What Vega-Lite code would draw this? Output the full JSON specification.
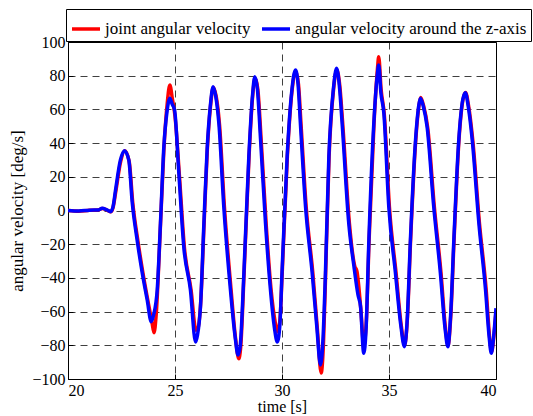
{
  "$schema": "https://vega.github.io/schema/vega-lite/v6.json",
  "width": 428,
  "height": 337,
  "autosize": {"type": "none"},
  "padding": {"left": 68, "top": 42, "right": 37, "bottom": 37},
  "background": "white",
  "config": {
    "view": {"stroke": "black", "strokeWidth": 1},
    "font": "Liberation Serif",
    "axis": {
      "labelFontSize": 16, "labelColor": "black",
      "titleFontSize": 17, "titleFontWeight": "normal", "titleColor": "black",
      "domain": false, "tickColor": "black", "tickSize": -5,
      "grid": true, "gridColor": "black", "gridDash": [7, 5], "gridOpacity": 0.75, "gridWidth": 1
    },
    "legend": {"labelFontSize": 17, "labelColor": "black"}
  },
  "datasets": {
    "curves": [
      {"s": "joint angular velocity", "t": 20.0, "v": 0},
      {"s": "joint angular velocity", "t": 20.5, "v": -0.4},
      {"s": "joint angular velocity", "t": 21.0, "v": 0.1},
      {"s": "joint angular velocity", "t": 21.4, "v": 0.3},
      {"s": "joint angular velocity", "t": 21.6, "v": 1.2},
      {"s": "joint angular velocity", "t": 21.8, "v": 0.4},
      {"s": "joint angular velocity", "t": 22.0, "v": -0.8},
      {"s": "joint angular velocity", "t": 22.1, "v": 1.5},
      {"s": "joint angular velocity", "t": 22.23, "v": 11},
      {"s": "joint angular velocity", "t": 22.46, "v": 29},
      {"s": "joint angular velocity", "t": 22.65, "v": 35.5},
      {"s": "joint angular velocity", "t": 22.86, "v": 29},
      {"s": "joint angular velocity", "t": 23.03, "v": 4},
      {"s": "joint angular velocity", "t": 23.26, "v": -17.5},
      {"s": "joint angular velocity", "t": 23.5, "v": -37},
      {"s": "joint angular velocity", "t": 23.74, "v": -54},
      {"s": "joint angular velocity", "t": 23.92, "v": -66},
      {"s": "joint angular velocity", "t": 24.02, "v": -72.5},
      {"s": "joint angular velocity", "t": 24.12, "v": -62},
      {"s": "joint angular velocity", "t": 24.3, "v": -15},
      {"s": "joint angular velocity", "t": 24.48, "v": 36},
      {"s": "joint angular velocity", "t": 24.64, "v": 64},
      {"s": "joint angular velocity", "t": 24.76, "v": 74.5},
      {"s": "joint angular velocity", "t": 24.88, "v": 66},
      {"s": "joint angular velocity", "t": 25.0, "v": 56},
      {"s": "joint angular velocity", "t": 25.21, "v": 20},
      {"s": "joint angular velocity", "t": 25.44, "v": -22},
      {"s": "joint angular velocity", "t": 25.75, "v": -47},
      {"s": "joint angular velocity", "t": 25.98, "v": -71},
      {"s": "joint angular velocity", "t": 26.07, "v": -70},
      {"s": "joint angular velocity", "t": 26.2, "v": -55},
      {"s": "joint angular velocity", "t": 26.36, "v": -7.6},
      {"s": "joint angular velocity", "t": 26.51, "v": 36},
      {"s": "joint angular velocity", "t": 26.66, "v": 62},
      {"s": "joint angular velocity", "t": 26.79, "v": 73},
      {"s": "joint angular velocity", "t": 26.92, "v": 68},
      {"s": "joint angular velocity", "t": 27.08, "v": 51},
      {"s": "joint angular velocity", "t": 27.31, "v": 2},
      {"s": "joint angular velocity", "t": 27.62, "v": -47},
      {"s": "joint angular velocity", "t": 27.83, "v": -76},
      {"s": "joint angular velocity", "t": 27.98, "v": -88},
      {"s": "joint angular velocity", "t": 28.07, "v": -81},
      {"s": "joint angular velocity", "t": 28.23, "v": -37},
      {"s": "joint angular velocity", "t": 28.46, "v": 32},
      {"s": "joint angular velocity", "t": 28.63, "v": 68},
      {"s": "joint angular velocity", "t": 28.74, "v": 78.5},
      {"s": "joint angular velocity", "t": 28.87, "v": 72},
      {"s": "joint angular velocity", "t": 29.03, "v": 41},
      {"s": "joint angular velocity", "t": 29.26, "v": -8},
      {"s": "joint angular velocity", "t": 29.49, "v": -47},
      {"s": "joint angular velocity", "t": 29.68, "v": -66},
      {"s": "joint angular velocity", "t": 29.8, "v": -72},
      {"s": "joint angular velocity", "t": 29.91, "v": -64},
      {"s": "joint angular velocity", "t": 30.01, "v": -37},
      {"s": "joint angular velocity", "t": 30.25, "v": 32},
      {"s": "joint angular velocity", "t": 30.46, "v": 70},
      {"s": "joint angular velocity", "t": 30.64, "v": 82.5},
      {"s": "joint angular velocity", "t": 30.77, "v": 75},
      {"s": "joint angular velocity", "t": 30.89, "v": 51},
      {"s": "joint angular velocity", "t": 31.13, "v": 2},
      {"s": "joint angular velocity", "t": 31.44, "v": -37},
      {"s": "joint angular velocity", "t": 31.65, "v": -70},
      {"s": "joint angular velocity", "t": 31.83, "v": -96.5},
      {"s": "joint angular velocity", "t": 31.94, "v": -78},
      {"s": "joint angular velocity", "t": 32.04, "v": -37},
      {"s": "joint angular velocity", "t": 32.2, "v": 32},
      {"s": "joint angular velocity", "t": 32.41, "v": 72},
      {"s": "joint angular velocity", "t": 32.56, "v": 83.5},
      {"s": "joint angular velocity", "t": 32.7, "v": 74},
      {"s": "joint angular velocity", "t": 32.84, "v": 51},
      {"s": "joint angular velocity", "t": 33.15, "v": -7.6},
      {"s": "joint angular velocity", "t": 33.4, "v": -33},
      {"s": "joint angular velocity", "t": 33.5, "v": -36},
      {"s": "joint angular velocity", "t": 33.68, "v": -58},
      {"s": "joint angular velocity", "t": 33.82, "v": -80},
      {"s": "joint angular velocity", "t": 33.94, "v": -66},
      {"s": "joint angular velocity", "t": 34.07, "v": -17.5},
      {"s": "joint angular velocity", "t": 34.3, "v": 51.7},
      {"s": "joint angular velocity", "t": 34.46, "v": 84},
      {"s": "joint angular velocity", "t": 34.52, "v": 91.3},
      {"s": "joint angular velocity", "t": 34.63, "v": 72},
      {"s": "joint angular velocity", "t": 34.78, "v": 57},
      {"s": "joint angular velocity", "t": 35.02, "v": 2},
      {"s": "joint angular velocity", "t": 35.33, "v": -37},
      {"s": "joint angular velocity", "t": 35.57, "v": -68},
      {"s": "joint angular velocity", "t": 35.73, "v": -80},
      {"s": "joint angular velocity", "t": 35.86, "v": -64},
      {"s": "joint angular velocity", "t": 36.01, "v": -17.5},
      {"s": "joint angular velocity", "t": 36.25, "v": 41.8},
      {"s": "joint angular velocity", "t": 36.41, "v": 63},
      {"s": "joint angular velocity", "t": 36.48, "v": 67},
      {"s": "joint angular velocity", "t": 36.62, "v": 62},
      {"s": "joint angular velocity", "t": 36.81, "v": 49},
      {"s": "joint angular velocity", "t": 37.12, "v": 2},
      {"s": "joint angular velocity", "t": 37.43, "v": -37},
      {"s": "joint angular velocity", "t": 37.64, "v": -70},
      {"s": "joint angular velocity", "t": 37.76, "v": -80},
      {"s": "joint angular velocity", "t": 37.89, "v": -62},
      {"s": "joint angular velocity", "t": 38.04, "v": -17.5},
      {"s": "joint angular velocity", "t": 38.27, "v": 41.8},
      {"s": "joint angular velocity", "t": 38.46, "v": 66},
      {"s": "joint angular velocity", "t": 38.58, "v": 70},
      {"s": "joint angular velocity", "t": 38.72, "v": 62},
      {"s": "joint angular velocity", "t": 38.92, "v": 41},
      {"s": "joint angular velocity", "t": 39.23, "v": -8},
      {"s": "joint angular velocity", "t": 39.54, "v": -47},
      {"s": "joint angular velocity", "t": 39.7, "v": -75},
      {"s": "joint angular velocity", "t": 39.79, "v": -84},
      {"s": "joint angular velocity", "t": 39.89, "v": -76},
      {"s": "joint angular velocity", "t": 40.0, "v": -60},

      {"s": "angular velocity around the z-axis", "t": 20.0, "v": 0},
      {"s": "angular velocity around the z-axis", "t": 20.5, "v": -0.3},
      {"s": "angular velocity around the z-axis", "t": 21.0, "v": 0.2},
      {"s": "angular velocity around the z-axis", "t": 21.4, "v": 0.3},
      {"s": "angular velocity around the z-axis", "t": 21.6, "v": 1.3},
      {"s": "angular velocity around the z-axis", "t": 21.8, "v": 0.5},
      {"s": "angular velocity around the z-axis", "t": 21.99, "v": -0.7},
      {"s": "angular velocity around the z-axis", "t": 22.1, "v": 2},
      {"s": "angular velocity around the z-axis", "t": 22.22, "v": 12},
      {"s": "angular velocity around the z-axis", "t": 22.45, "v": 30},
      {"s": "angular velocity around the z-axis", "t": 22.64, "v": 35.5},
      {"s": "angular velocity around the z-axis", "t": 22.84, "v": 30},
      {"s": "angular velocity around the z-axis", "t": 23.0, "v": 5},
      {"s": "angular velocity around the z-axis", "t": 23.23, "v": -17.5},
      {"s": "angular velocity around the z-axis", "t": 23.47, "v": -37},
      {"s": "angular velocity around the z-axis", "t": 23.7, "v": -53},
      {"s": "angular velocity around the z-axis", "t": 23.89, "v": -66},
      {"s": "angular velocity around the z-axis", "t": 24.0, "v": -62},
      {"s": "angular velocity around the z-axis", "t": 24.17, "v": -47},
      {"s": "angular velocity around the z-axis", "t": 24.32, "v": -7.6},
      {"s": "angular velocity around the z-axis", "t": 24.48, "v": 38},
      {"s": "angular velocity around the z-axis", "t": 24.62, "v": 58},
      {"s": "angular velocity around the z-axis", "t": 24.76, "v": 66.6},
      {"s": "angular velocity around the z-axis", "t": 24.87, "v": 63},
      {"s": "angular velocity around the z-axis", "t": 24.98, "v": 59.6},
      {"s": "angular velocity around the z-axis", "t": 25.18, "v": 22},
      {"s": "angular velocity around the z-axis", "t": 25.41, "v": -21.5},
      {"s": "angular velocity around the z-axis", "t": 25.72, "v": -47},
      {"s": "angular velocity around the z-axis", "t": 25.96, "v": -78},
      {"s": "angular velocity around the z-axis", "t": 26.05, "v": -74},
      {"s": "angular velocity around the z-axis", "t": 26.19, "v": -57},
      {"s": "angular velocity around the z-axis", "t": 26.35, "v": -7.6},
      {"s": "angular velocity around the z-axis", "t": 26.5, "v": 36},
      {"s": "angular velocity around the z-axis", "t": 26.65, "v": 62},
      {"s": "angular velocity around the z-axis", "t": 26.78, "v": 73.5},
      {"s": "angular velocity around the z-axis", "t": 26.9, "v": 68},
      {"s": "angular velocity around the z-axis", "t": 27.05, "v": 51.7},
      {"s": "angular velocity around the z-axis", "t": 27.28, "v": 2.3},
      {"s": "angular velocity around the z-axis", "t": 27.59, "v": -47},
      {"s": "angular velocity around the z-axis", "t": 27.8, "v": -74},
      {"s": "angular velocity around the z-axis", "t": 27.95, "v": -85.8},
      {"s": "angular velocity around the z-axis", "t": 28.05, "v": -80},
      {"s": "angular velocity around the z-axis", "t": 28.22, "v": -37},
      {"s": "angular velocity around the z-axis", "t": 28.45, "v": 32},
      {"s": "angular velocity around the z-axis", "t": 28.62, "v": 68},
      {"s": "angular velocity around the z-axis", "t": 28.73, "v": 79.4},
      {"s": "angular velocity around the z-axis", "t": 28.85, "v": 72},
      {"s": "angular velocity around the z-axis", "t": 29.0, "v": 41.8},
      {"s": "angular velocity around the z-axis", "t": 29.23, "v": -7.6},
      {"s": "angular velocity around the z-axis", "t": 29.46, "v": -47},
      {"s": "angular velocity around the z-axis", "t": 29.65, "v": -70},
      {"s": "angular velocity around the z-axis", "t": 29.78, "v": -78},
      {"s": "angular velocity around the z-axis", "t": 29.9, "v": -68},
      {"s": "angular velocity around the z-axis", "t": 30.0, "v": -37},
      {"s": "angular velocity around the z-axis", "t": 30.24, "v": 32},
      {"s": "angular velocity around the z-axis", "t": 30.45, "v": 70},
      {"s": "angular velocity around the z-axis", "t": 30.63, "v": 83.4},
      {"s": "angular velocity around the z-axis", "t": 30.75, "v": 75},
      {"s": "angular velocity around the z-axis", "t": 30.86, "v": 51.7},
      {"s": "angular velocity around the z-axis", "t": 31.1, "v": 2.3},
      {"s": "angular velocity around the z-axis", "t": 31.41, "v": -37},
      {"s": "angular velocity around the z-axis", "t": 31.62, "v": -68},
      {"s": "angular velocity around the z-axis", "t": 31.8, "v": -91.7},
      {"s": "angular velocity around the z-axis", "t": 31.92, "v": -75},
      {"s": "angular velocity around the z-axis", "t": 32.03, "v": -37},
      {"s": "angular velocity around the z-axis", "t": 32.19, "v": 32},
      {"s": "angular velocity around the z-axis", "t": 32.4, "v": 72},
      {"s": "angular velocity around the z-axis", "t": 32.55, "v": 84.4},
      {"s": "angular velocity around the z-axis", "t": 32.68, "v": 74},
      {"s": "angular velocity around the z-axis", "t": 32.81, "v": 51.7},
      {"s": "angular velocity around the z-axis", "t": 33.12, "v": -7.6},
      {"s": "angular velocity around the z-axis", "t": 33.36, "v": -33},
      {"s": "angular velocity around the z-axis", "t": 33.55, "v": -50},
      {"s": "angular velocity around the z-axis", "t": 33.67, "v": -57},
      {"s": "angular velocity around the z-axis", "t": 33.82, "v": -84.7},
      {"s": "angular velocity around the z-axis", "t": 33.93, "v": -70},
      {"s": "angular velocity around the z-axis", "t": 34.06, "v": -17.5},
      {"s": "angular velocity around the z-axis", "t": 34.29, "v": 51.7},
      {"s": "angular velocity around the z-axis", "t": 34.45, "v": 80},
      {"s": "angular velocity around the z-axis", "t": 34.52, "v": 86.4},
      {"s": "angular velocity around the z-axis", "t": 34.62, "v": 70},
      {"s": "angular velocity around the z-axis", "t": 34.76, "v": 57.7},
      {"s": "angular velocity around the z-axis", "t": 34.99, "v": 2.3},
      {"s": "angular velocity around the z-axis", "t": 35.3, "v": -37},
      {"s": "angular velocity around the z-axis", "t": 35.55, "v": -68},
      {"s": "angular velocity around the z-axis", "t": 35.72, "v": -80.8},
      {"s": "angular velocity around the z-axis", "t": 35.85, "v": -65},
      {"s": "angular velocity around the z-axis", "t": 36.0, "v": -17.5},
      {"s": "angular velocity around the z-axis", "t": 36.24, "v": 41.8},
      {"s": "angular velocity around the z-axis", "t": 36.4, "v": 63},
      {"s": "angular velocity around the z-axis", "t": 36.47, "v": 66.6},
      {"s": "angular velocity around the z-axis", "t": 36.6, "v": 62},
      {"s": "angular velocity around the z-axis", "t": 36.78, "v": 49.7},
      {"s": "angular velocity around the z-axis", "t": 37.09, "v": 2.3},
      {"s": "angular velocity around the z-axis", "t": 37.4, "v": -37},
      {"s": "angular velocity around the z-axis", "t": 37.62, "v": -70},
      {"s": "angular velocity around the z-axis", "t": 37.75, "v": -80.8},
      {"s": "angular velocity around the z-axis", "t": 37.88, "v": -62},
      {"s": "angular velocity around the z-axis", "t": 38.03, "v": -17.5},
      {"s": "angular velocity around the z-axis", "t": 38.26, "v": 41.8},
      {"s": "angular velocity around the z-axis", "t": 38.45, "v": 66},
      {"s": "angular velocity around the z-axis", "t": 38.57, "v": 69.9},
      {"s": "angular velocity around the z-axis", "t": 38.7, "v": 62},
      {"s": "angular velocity around the z-axis", "t": 38.89, "v": 41.8},
      {"s": "angular velocity around the z-axis", "t": 39.2, "v": -7.6},
      {"s": "angular velocity around the z-axis", "t": 39.51, "v": -47},
      {"s": "angular velocity around the z-axis", "t": 39.68, "v": -75},
      {"s": "angular velocity around the z-axis", "t": 39.78, "v": -84.7},
      {"s": "angular velocity around the z-axis", "t": 39.88, "v": -76},
      {"s": "angular velocity around the z-axis", "t": 40.0, "v": -58}
    ]
  },
  "data": {"name": "curves"},
  "encoding": {
    "x": {
      "field": "t", "type": "quantitative",
      "scale": {"domain": [20, 40], "nice": false, "zero": false},
      "axis": {"values": [20, 25, 30, 35, 40], "title": "time [s]", "titleFontSize": 16, "labelPadding": 8, "titlePadding": 0}
    },
    "y": {
      "field": "v", "type": "quantitative",
      "scale": {"domain": [-100, 100], "nice": false},
      "axis": {"values": [-100, -80, -60, -40, -20, 0, 20, 40, 60, 80, 100], "title": "angular velocity [deg/s]", "labelPadding": 8, "titlePadding": 5}
    },
    "color": {
      "field": "s", "type": "nominal",
      "scale": {"domain": ["joint angular velocity", "angular velocity around the z-axis"], "range": ["#ff0000", "#0000ff"]},
      "legend": {
        "title": null, "orient": "none", "direction": "horizontal",
        "legendX": -2, "legendY": -33,
        "symbolType": "stroke", "symbolStrokeWidth": 3.5, "symbolSize": 784,
        "strokeColor": "black", "fillColor": "white", "padding": 4,
        "columnPadding": 4, "labelOffset": 3, "labelLimit": 300
      }
    }
  },
  "layer": [
    {
      "transform": [{"filter": "datum.s === 'joint angular velocity'"}],
      "mark": {"type": "line", "strokeWidth": 3.5, "clip": true, "interpolate": "monotone"}
    },
    {
      "transform": [{"filter": "datum.s === 'angular velocity around the z-axis'"}],
      "mark": {"type": "line", "strokeWidth": 3.5, "clip": true, "interpolate": "monotone"}
    }
  ]
}
